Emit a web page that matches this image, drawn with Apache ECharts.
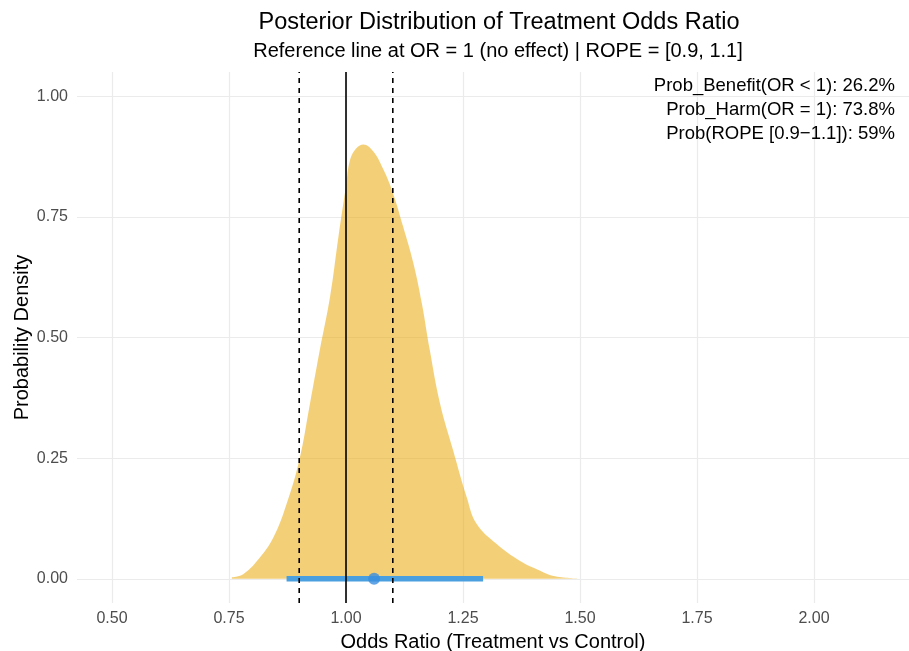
<!DOCTYPE html>
<html>
<head>
<meta charset="utf-8">
<script src="https://cdn.jsdelivr.net/npm/echarts@6/dist/echarts.min.js"></script>
<style>html,body{margin:0;padding:0;background:#fff;}#c{width:909px;height:651px;}</style>
</head>
<body>
<div id="c"></div>
<script>
// Density curve of posterior odds ratio
const densityX = [0.756, 0.781, 0.816, 0.845, 0.873, 0.900, 0.923, 0.944, 0.966, 0.984, 1.000, 1.009, 1.023, 1.037, 1.058, 1.080, 1.100, 1.122, 1.144, 1.162, 1.179, 1.201, 1.229, 1.258, 1.279, 1.322, 1.372, 1.415, 1.443, 1.496];
const densityY = [0.003, 0.010, 0.044, 0.086, 0.155, 0.245, 0.363, 0.474, 0.585, 0.710, 0.814, 0.869, 0.893, 0.900, 0.886, 0.848, 0.800, 0.730, 0.654, 0.571, 0.474, 0.363, 0.266, 0.169, 0.114, 0.072, 0.037, 0.017, 0.006, 0.001];
// Credible interval and point estimate
const intervalX = [0.873, 1.293];
const pointEstimate = 1.060;
// Reference lines
const refLine = 1.0;
const ropeBounds = [0.9, 1.1];
// Tick labels
const xTicks = [0.5, 0.75, 1.0, 1.25, 1.5, 1.75, 2.0];
const yTicks = [0, 0.25, 0.5, 0.75, 1.0];
const annotations = ["Prob_Benefit(OR < 1): 26.2%", "Prob_Harm(OR = 1): 73.8%", "Prob(ROPE [0.9\u22121.1]): 59%"];

const FONT = "'Liberation Sans', Arial, Helvetica, sans-serif";
const chart = echarts.init(document.getElementById('c'));
const yMin = -0.05, yMax = 1.05;

const densityData = densityX.map((x, i) => [x, densityY[i]]);
const vline = (x, type, w) => ({
  type: 'line', data: [[x, yMin], [x, yMax]], symbol: 'none', silent: true, z: 5,
  lineStyle: { color: '#000', width: w, type: type }
});

chart.setOption({
  animation: false,
  title: [
    { text: 'Posterior Distribution of Treatment Odds Ratio', left: 494, top: 6, textAlign: 'center',
      textStyle: { fontFamily: FONT, fontSize: 23.5, fontWeight: 'normal', color: '#000' } },
    { text: 'Reference line at OR = 1 (no effect) | ROPE = [0.9, 1.1]', left: 493, top: 36, textAlign: 'center',
      textStyle: { fontFamily: FONT, fontSize: 20, fontWeight: 'normal', color: '#000' } }
  ],
  grid: { left: 77, right: 0, top: 72, bottom: 48, outerBoundsMode: 'none', containLabel: false },
  xAxis: {
    type: 'value', min: 0.4252, max: 2.203,
    name: 'Odds Ratio (Treatment vs Control)', nameLocation: 'middle', nameGap: 29,
    nameTextStyle: { fontFamily: FONT, fontSize: 20, color: '#000' },
    axisLine: { show: false },
    axisTick: { show: false, customValues: xTicks },
    axisLabel: {
      fontFamily: FONT, fontSize: 16, color: '#4d4d4d', margin: 8,
      customValues: xTicks,
      formatter: v => v.toFixed(2)
    },
    splitLine: { show: true, lineStyle: { color: '#ebebeb', width: 1.2 } }
  },
  yAxis: {
    type: 'value', min: yMin, max: yMax,
    name: 'Probability Density', nameLocation: 'middle', nameGap: 55, nameRotate: 90,
    nameMoveOverlap: false,
    nameTextStyle: { fontFamily: FONT, fontSize: 20, color: '#000', verticalAlign: 'middle' },
    axisLine: { show: false },
    axisTick: { show: false, customValues: yTicks },
    axisLabel: {
      fontFamily: FONT, fontSize: 16, color: '#4d4d4d', margin: 9,
      customValues: yTicks,
      formatter: v => v.toFixed(2)
    },
    splitLine: { show: true, lineStyle: { color: '#ebebeb', width: 1.2 } }
  },
  graphic: annotations.map((t, i) => ({
    type: 'text', right: 14, top: 76 + i * 24, z: 10,
    style: { text: t, fontFamily: FONT, fontSize: 18.5, fill: '#000', textAlign: 'right' }
  })),
  series: [
    { type: 'line', data: densityData, smooth: 0.4, symbol: 'none', z: 2,
      lineStyle: { width: 0 }, areaStyle: { color: 'rgba(232,165,0,0.53)', opacity: 1, origin: 0 } },
    { type: 'line', data: intervalX.map(x => [x, 0]), symbol: 'none', z: 3,
      lineStyle: { color: '#4a9fdf', width: 5.5, cap: 'butt' } },
    { type: 'scatter', data: [[pointEstimate, 0]], symbolSize: 12, z: 4,
      itemStyle: { color: '#3a8fe0' } },
    vline(refLine, 'solid', 1.6),
    vline(ropeBounds[0], [5, 5], 1.6),
    vline(ropeBounds[1], [5, 5], 1.6)
  ]
});
</script>
</body>
</html>
